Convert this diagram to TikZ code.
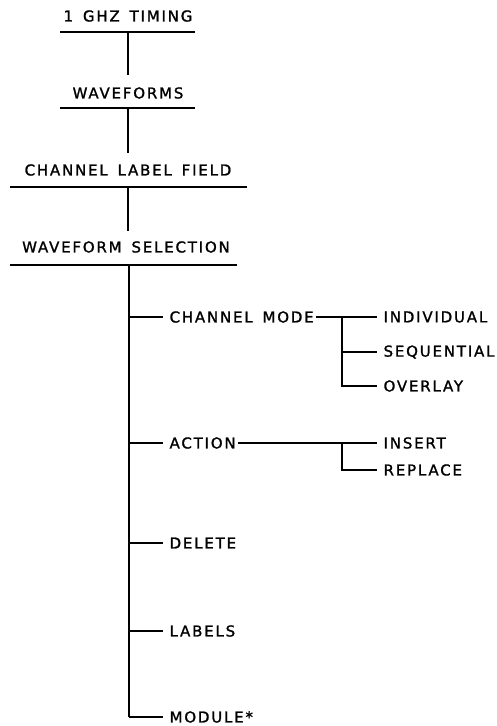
\documentclass[tikz,border=0pt]{standalone}
\usepackage{fontspec}
\setmainfont{DejaVu Sans}[LetterSpace=12,WordSpace=1.5,FakeBold=1.3]
\begin{document}
\begin{tikzpicture}[x=1pt,y=-1pt,line width=1.2pt,
  lab/.style={font=\fontsize{15}{18}\selectfont,inner sep=0pt},
  item/.style={lab,anchor=west,inner xsep=6pt}]
\useasboundingbox (0,0) rectangle (497,726);
% titles
\node[lab] (t1) at (128,16) {1 GHZ TIMING};
\node[lab] (t2) at (128,93) {WAVEFORMS};
\node[lab] (t3) at (128,170) {CHANNEL LABEL FIELD};
\node[lab] (t4) at (126,247) {WAVEFORM SELECTION};
\coordinate (u1l) at (60,32);  \coordinate (u1r) at (195,32);  \coordinate (u1) at (128,32);
\coordinate (u2l) at (60,108); \coordinate (u2r) at (195,108); \coordinate (u2) at (128,108);
\coordinate (u3l) at (10,187); \coordinate (u3r) at (247,187); \coordinate (u3) at (128,187);
\coordinate (u4l) at (10,265); \coordinate (u4r) at (237,265); \coordinate (u4) at (129,265);
\coordinate (e2) at (128,75);
\coordinate (e3) at (128,153);
\coordinate (e4) at (128,231);
\draw (u1l) -- (u1r);
\draw (u2l) -- (u2r);
\draw (u3l) -- (u3r);
\draw (u4l) -- (u4r);
\draw (u1) -- (e2);
\draw (u2) -- (e3);
\draw (u3) -- (e4);
% branch items
\node[item] (cm)  at (163,317) {CHANNEL MODE};
\node[item] (act) at (163,443) {ACTION};
\node[item] (del) at (163,543) {DELETE};
\node[item] (lbl) at (163,631) {LABELS};
\node[item] (mod) at (163,717) {MODULE*};
\node[item] (ind) at (377,317) {INDIVIDUAL};
\node[item] (seq) at (377,352) {SEQUENTIAL};
\node[item] (ovl) at (377,386) {OVERLAY};
\node[item] (ins) at (377,443) {INSERT};
\node[item] (rep) at (377,470) {REPLACE};
\coordinate (b1) at (129,317);
\coordinate (b2) at (129,443);
\coordinate (b3) at (129,543);
\coordinate (b4) at (129,631);
\coordinate (b5) at (129,717);
\coordinate (j1) at (342,317);
\coordinate (j1s) at (342,352);
\coordinate (j1b) at (342,386);
\coordinate (j2) at (342,443);
\coordinate (j2b) at (342,470);
% trunk
\draw (u4) -- (b5);
\draw (b1) -- (cm.west);
\draw (b2) -- (act.west);
\draw (b3) -- (del.west);
\draw (b4) -- (lbl.west);
\draw (b5) -- (mod.west);
% channel mode subtree
\draw ([xshift=-4pt]cm.east) -- (ind.west);
\draw (j1) -- (j1b) -- (ovl.west);
\draw (j1s) -- (seq.west);
% action subtree
\draw ([xshift=-4pt]act.east) -- (ins.west);
\draw (j2) -- (j2b) -- (rep.west);
\end{tikzpicture}
\end{document}
